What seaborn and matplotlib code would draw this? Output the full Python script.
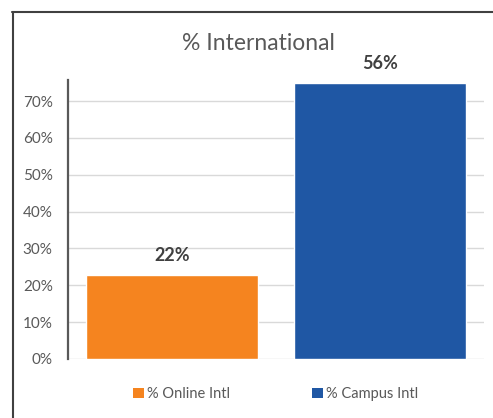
import matplotlib
matplotlib.use("Agg")
import matplotlib.pyplot as plt
import seaborn as sns
import pandas as pd
from matplotlib.lines import Line2D
from matplotlib.patches import Patch
from matplotlib.ticker import PercentFormatter

# data
categories = ["% Online Intl", "% Campus Intl"]
bar_heights = [0.228, 0.748]
bar_labels = ["22%", "56%"]
colors = ["#F5841F", "#1F57A4"]
yticks = [0, 0.1, 0.2, 0.3, 0.4, 0.5, 0.6, 0.7]

sns.set_theme(style="white")
plt.rcParams["font.family"] = ["Lato", "DejaVu Sans"]

df = pd.DataFrame({"cat": categories, "val": bar_heights})

fig = plt.figure(figsize=(4.93, 4.18), dpi=100)
ax = fig.add_axes([68 / 493, 59 / 418, 416 / 493, 279 / 418])

sns.barplot(data=df, x="cat", y="val", hue="cat", palette=colors,
            width=0.827, saturation=1, legend=False, ax=ax)

ax.set_xlim(-0.5, 1.5)
ax.set_ylim(0, 0.757)
ax.set_yticks(yticks)
ax.yaxis.set_major_formatter(PercentFormatter(1.0, decimals=0))
ax.set_xticks([])
ax.set_xlabel("")
ax.set_ylabel("")
ax.grid(axis="y", color="#D9D9D9", lw=1)
ax.set_axisbelow(True)
ax.tick_params(axis="y", length=0, pad=11, labelsize=11, labelcolor="#595959")
for s in ["top", "right", "bottom"]:
    ax.spines[s].set_visible(False)
ax.spines["left"].set_color("#595959")
ax.spines["left"].set_linewidth(1.6)

for i, (h, lab) in enumerate(zip(bar_heights, bar_labels)):
    ax.annotate(lab, (i, h), xytext=(0, 14), textcoords="offset points",
                ha="center", va="center", fontsize=13, fontweight="bold",
                color="#404040")

fig.text(258 / 493, 1 - 43 / 418, "% International", ha="center", va="center",
         fontsize=16.5, color="#595959")

handles = [Patch(facecolor=c, edgecolor="none") for c in colors]
fig.legend(handles, categories, loc="center", bbox_to_anchor=(275.5 / 493, 1 - 394 / 418),
           ncol=2, frameon=False, fontsize=10.5, labelcolor="#595959",
           handlelength=0.75, handleheight=0.75, handletextpad=0.2, columnspacing=5.6)

# chart border (top and left edges visible)
fig.add_artist(Line2D([12 / 493, 1], [1 - 11.5 / 418, 1 - 11.5 / 418],
                      transform=fig.transFigure, color="#404040", lw=1.5))
fig.add_artist(Line2D([12.5 / 493, 12.5 / 493], [0, 1 - 11.5 / 418],
                      transform=fig.transFigure, color="#404040", lw=1.5))

fig.savefig("out.png", dpi=100)
